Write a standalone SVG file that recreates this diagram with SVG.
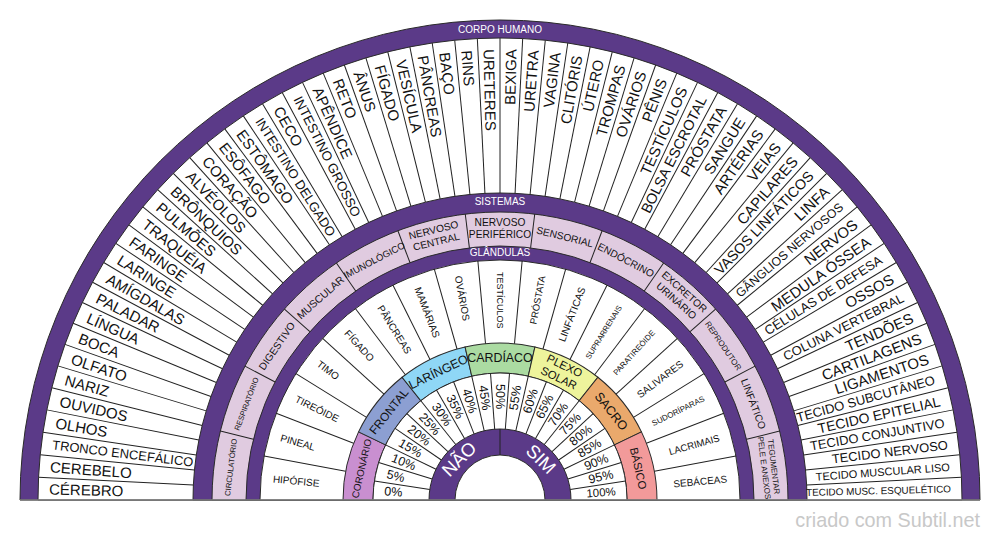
<svg xmlns="http://www.w3.org/2000/svg" xmlns:xlink="http://www.w3.org/1999/xlink" width="1000" height="540" viewBox="0 0 1000 540">
<style>
text{font-family:'Liberation Sans',Arial,Helvetica,sans-serif;fill:#111;dominant-baseline:central}
.cl{font-size:15px;text-anchor:start}
.cr{font-size:15px;text-anchor:end}
.gl{font-size:10px;text-anchor:start}
.gr{font-size:10px;text-anchor:end}
.pl{font-size:12.5px;text-anchor:start}
.pr{font-size:12.5px;text-anchor:end}
.s{font-size:10.2px;text-anchor:middle}
.k{font-size:12.4px;text-anchor:middle}
.band{font-size:10px;text-anchor:middle;fill:#fff}
.ns{font-size:18.5px;text-anchor:middle;fill:#fff}
.disc{stroke:#2a2a2a;stroke-width:1}
.lines{stroke:#222;stroke-width:1}
</style>
<defs>
<line id="lc" x1="38" y1="500" x2="193" y2="500"/>
<line id="ls" x1="212" y1="500" x2="246" y2="500"/>
<line id="lg" x1="260" y1="500" x2="343" y2="500"/>
<line id="lp" x1="373" y1="500" x2="429" y2="500"/>
<path id="wedge" d="M343,500 A157,157 0 0 1 358.55,431.88 L385.58,444.9 A127,127 0 0 0 373,500 Z"/>
</defs>
<rect width="1000" height="540" fill="#fff"/>
<g id="rings">
<path class="disc" fill="#5b3a88" d="M20,500 A480,480 0 0 1 980,500 Z"/>
<path class="disc" fill="#fff" d="M38,500 A462,462 0 0 1 962,500 Z"/>
<path class="disc" fill="#5b3a88" d="M193,500 A307,307 0 0 1 807,500 Z"/>
<path class="disc" fill="#e0cbe0" d="M212,500 A288,288 0 0 1 788,500 Z"/>
<path class="disc" fill="#5b3a88" d="M246,500 A254,254 0 0 1 754,500 Z"/>
<path class="disc" fill="#fff" d="M260,500 A240,240 0 0 1 740,500 Z"/>
</g>
<g id="chakras" stroke="#2a2a2a" stroke-width="1">
<use xlink:href="#wedge" fill="#c98fd0"/>
<use xlink:href="#wedge" fill="#8c9fd2" transform="rotate(25.714 500 500)"/>
<use xlink:href="#wedge" fill="#8fd7f6" transform="rotate(51.429 500 500)"/>
<use xlink:href="#wedge" fill="#abdba2" transform="rotate(77.143 500 500)"/>
<use xlink:href="#wedge" fill="#eef49c" transform="rotate(102.857 500 500)"/>
<use xlink:href="#wedge" fill="#eaa96c" transform="rotate(128.571 500 500)"/>
<use xlink:href="#wedge" fill="#f29a9a" transform="rotate(154.286 500 500)"/>
</g>
<g id="center-rings">
<path class="disc" fill="#fff" d="M373,500 A127,127 0 0 1 627,500 Z"/>
<path class="disc" fill="#5b3a88" d="M429,500 A71,71 0 0 1 571,500 Z"/>
<path class="disc" fill="#fff" d="M455,500 A45,45 0 0 1 545,500 Z"/>
</g>
<g id="connectors" class="lines">
<use xlink:href="#lc" transform="rotate(2.8125 500 500)"/>
<use xlink:href="#lc" transform="rotate(5.625 500 500)"/>
<use xlink:href="#lc" transform="rotate(8.4375 500 500)"/>
<use xlink:href="#lc" transform="rotate(11.25 500 500)"/>
<use xlink:href="#lc" transform="rotate(14.0625 500 500)"/>
<use xlink:href="#lc" transform="rotate(16.875 500 500)"/>
<use xlink:href="#lc" transform="rotate(19.6875 500 500)"/>
<use xlink:href="#lc" transform="rotate(22.5 500 500)"/>
<use xlink:href="#lc" transform="rotate(25.3125 500 500)"/>
<use xlink:href="#lc" transform="rotate(28.125 500 500)"/>
<use xlink:href="#lc" transform="rotate(30.9375 500 500)"/>
<use xlink:href="#lc" transform="rotate(33.75 500 500)"/>
<use xlink:href="#lc" transform="rotate(36.5625 500 500)"/>
<use xlink:href="#lc" transform="rotate(39.375 500 500)"/>
<use xlink:href="#lc" transform="rotate(42.1875 500 500)"/>
<use xlink:href="#lc" transform="rotate(45 500 500)"/>
<use xlink:href="#lc" transform="rotate(47.8125 500 500)"/>
<use xlink:href="#lc" transform="rotate(50.625 500 500)"/>
<use xlink:href="#lc" transform="rotate(53.4375 500 500)"/>
<use xlink:href="#lc" transform="rotate(56.25 500 500)"/>
<use xlink:href="#lc" transform="rotate(59.0625 500 500)"/>
<use xlink:href="#lc" transform="rotate(61.875 500 500)"/>
<use xlink:href="#lc" transform="rotate(64.6875 500 500)"/>
<use xlink:href="#lc" transform="rotate(67.5 500 500)"/>
<use xlink:href="#lc" transform="rotate(70.3125 500 500)"/>
<use xlink:href="#lc" transform="rotate(73.125 500 500)"/>
<use xlink:href="#lc" transform="rotate(75.9375 500 500)"/>
<use xlink:href="#lc" transform="rotate(78.75 500 500)"/>
<use xlink:href="#lc" transform="rotate(81.5625 500 500)"/>
<use xlink:href="#lc" transform="rotate(84.375 500 500)"/>
<use xlink:href="#lc" transform="rotate(87.1875 500 500)"/>
<use xlink:href="#lc" transform="rotate(90 500 500)"/>
<use xlink:href="#lc" transform="rotate(92.8125 500 500)"/>
<use xlink:href="#lc" transform="rotate(95.625 500 500)"/>
<use xlink:href="#lc" transform="rotate(98.4375 500 500)"/>
<use xlink:href="#lc" transform="rotate(101.25 500 500)"/>
<use xlink:href="#lc" transform="rotate(104.0625 500 500)"/>
<use xlink:href="#lc" transform="rotate(106.875 500 500)"/>
<use xlink:href="#lc" transform="rotate(109.6875 500 500)"/>
<use xlink:href="#lc" transform="rotate(112.5 500 500)"/>
<use xlink:href="#lc" transform="rotate(115.3125 500 500)"/>
<use xlink:href="#lc" transform="rotate(118.125 500 500)"/>
<use xlink:href="#lc" transform="rotate(120.9375 500 500)"/>
<use xlink:href="#lc" transform="rotate(123.75 500 500)"/>
<use xlink:href="#lc" transform="rotate(126.5625 500 500)"/>
<use xlink:href="#lc" transform="rotate(129.375 500 500)"/>
<use xlink:href="#lc" transform="rotate(132.1875 500 500)"/>
<use xlink:href="#lc" transform="rotate(135 500 500)"/>
<use xlink:href="#lc" transform="rotate(137.8125 500 500)"/>
<use xlink:href="#lc" transform="rotate(140.625 500 500)"/>
<use xlink:href="#lc" transform="rotate(143.4375 500 500)"/>
<use xlink:href="#lc" transform="rotate(146.25 500 500)"/>
<use xlink:href="#lc" transform="rotate(149.0625 500 500)"/>
<use xlink:href="#lc" transform="rotate(151.875 500 500)"/>
<use xlink:href="#lc" transform="rotate(154.6875 500 500)"/>
<use xlink:href="#lc" transform="rotate(157.5 500 500)"/>
<use xlink:href="#lc" transform="rotate(160.3125 500 500)"/>
<use xlink:href="#lc" transform="rotate(163.125 500 500)"/>
<use xlink:href="#lc" transform="rotate(165.9375 500 500)"/>
<use xlink:href="#lc" transform="rotate(168.75 500 500)"/>
<use xlink:href="#lc" transform="rotate(171.5625 500 500)"/>
<use xlink:href="#lc" transform="rotate(174.375 500 500)"/>
<use xlink:href="#lc" transform="rotate(177.1875 500 500)"/>
<use xlink:href="#ls" transform="rotate(13.846 500 500)"/>
<use xlink:href="#ls" transform="rotate(27.692 500 500)"/>
<use xlink:href="#ls" transform="rotate(41.538 500 500)"/>
<use xlink:href="#ls" transform="rotate(55.385 500 500)"/>
<use xlink:href="#ls" transform="rotate(69.231 500 500)"/>
<use xlink:href="#ls" transform="rotate(83.077 500 500)"/>
<use xlink:href="#ls" transform="rotate(96.923 500 500)"/>
<use xlink:href="#ls" transform="rotate(110.769 500 500)"/>
<use xlink:href="#ls" transform="rotate(124.615 500 500)"/>
<use xlink:href="#ls" transform="rotate(138.462 500 500)"/>
<use xlink:href="#ls" transform="rotate(152.308 500 500)"/>
<use xlink:href="#ls" transform="rotate(166.154 500 500)"/>
<use xlink:href="#lg" transform="rotate(10.588 500 500)"/>
<use xlink:href="#lg" transform="rotate(21.176 500 500)"/>
<use xlink:href="#lg" transform="rotate(31.765 500 500)"/>
<use xlink:href="#lg" transform="rotate(42.353 500 500)"/>
<use xlink:href="#lg" transform="rotate(52.941 500 500)"/>
<use xlink:href="#lg" transform="rotate(63.529 500 500)"/>
<use xlink:href="#lg" transform="rotate(74.118 500 500)"/>
<use xlink:href="#lg" transform="rotate(84.706 500 500)"/>
<use xlink:href="#lg" transform="rotate(95.294 500 500)"/>
<use xlink:href="#lg" transform="rotate(105.882 500 500)"/>
<use xlink:href="#lg" transform="rotate(116.471 500 500)"/>
<use xlink:href="#lg" transform="rotate(127.059 500 500)"/>
<use xlink:href="#lg" transform="rotate(137.647 500 500)"/>
<use xlink:href="#lg" transform="rotate(148.235 500 500)"/>
<use xlink:href="#lg" transform="rotate(158.824 500 500)"/>
<use xlink:href="#lg" transform="rotate(169.412 500 500)"/>
<use xlink:href="#lp" transform="rotate(8.571 500 500)"/>
<use xlink:href="#lp" transform="rotate(17.143 500 500)"/>
<use xlink:href="#lp" transform="rotate(25.714 500 500)"/>
<use xlink:href="#lp" transform="rotate(34.286 500 500)"/>
<use xlink:href="#lp" transform="rotate(42.857 500 500)"/>
<use xlink:href="#lp" transform="rotate(51.429 500 500)"/>
<use xlink:href="#lp" transform="rotate(60 500 500)"/>
<use xlink:href="#lp" transform="rotate(68.571 500 500)"/>
<use xlink:href="#lp" transform="rotate(77.143 500 500)"/>
<use xlink:href="#lp" transform="rotate(85.714 500 500)"/>
<use xlink:href="#lp" transform="rotate(94.286 500 500)"/>
<use xlink:href="#lp" transform="rotate(102.857 500 500)"/>
<use xlink:href="#lp" transform="rotate(111.429 500 500)"/>
<use xlink:href="#lp" transform="rotate(120 500 500)"/>
<use xlink:href="#lp" transform="rotate(128.571 500 500)"/>
<use xlink:href="#lp" transform="rotate(137.143 500 500)"/>
<use xlink:href="#lp" transform="rotate(145.714 500 500)"/>
<use xlink:href="#lp" transform="rotate(154.286 500 500)"/>
<use xlink:href="#lp" transform="rotate(162.857 500 500)"/>
<use xlink:href="#lp" transform="rotate(171.429 500 500)"/>
<line x1="500" y1="429" x2="500" y2="455"/>
<line x1="20" y1="500" x2="980" y2="500" stroke="#808080" stroke-width="1.6"/>
</g>
<g id="titles">
<text class="band" x="500" y="29.5">CORPO HUMANO</text>
<text class="band" x="500" y="201.5">SISTEMAS</text>
<text class="band" x="500" y="252.5">GLÂNDULAS</text>
</g>
<g id="corpo-humano">
<text class="cl" x="49" y="500" transform="rotate(1.40625 500 500)">CÉREBRO</text>
<text class="cl" x="49" y="500" transform="rotate(4.21875 500 500)">CEREBELO</text>
<text class="cl" x="49" y="500" transform="rotate(7.03125 500 500)" style="font-size:12.9px">TRONCO ENCEFÁLICO</text>
<text class="cl" x="49" y="500" transform="rotate(9.84375 500 500)">OLHOS</text>
<text class="cl" x="49" y="500" transform="rotate(12.65625 500 500)">OUVIDOS</text>
<text class="cl" x="49" y="500" transform="rotate(15.46875 500 500)">NARIZ</text>
<text class="cl" x="49" y="500" transform="rotate(18.28125 500 500)">OLFATO</text>
<text class="cl" x="49" y="500" transform="rotate(21.09375 500 500)">BOCA</text>
<text class="cl" x="49" y="500" transform="rotate(23.90625 500 500)">LÍNGUA</text>
<text class="cl" x="49" y="500" transform="rotate(26.71875 500 500)">PALADAR</text>
<text class="cl" x="49" y="500" transform="rotate(29.53125 500 500)">AMÍGDALAS</text>
<text class="cl" x="49" y="500" transform="rotate(32.34375 500 500)">LARINGE</text>
<text class="cl" x="49" y="500" transform="rotate(35.15625 500 500)">FARINGE</text>
<text class="cl" x="49" y="500" transform="rotate(37.96875 500 500)">TRAQUÉIA</text>
<text class="cl" x="49" y="500" transform="rotate(40.78125 500 500)">PULMÕES</text>
<text class="cl" x="49" y="500" transform="rotate(43.59375 500 500)">BRÔNQUIOS</text>
<text class="cl" x="49" y="500" transform="rotate(46.40625 500 500)">ALVÉOLOS</text>
<text class="cl" x="49" y="500" transform="rotate(49.21875 500 500)">CORAÇÃO</text>
<text class="cl" x="49" y="500" transform="rotate(52.03125 500 500)">ESÔFAGO</text>
<text class="cl" x="49" y="500" transform="rotate(54.84375 500 500)">ESTÔMAGO</text>
<text class="cl" x="49" y="500" transform="rotate(57.65625 500 500)" style="font-size:13.1px">INTESTINO DELGADO</text>
<text class="cl" x="49" y="500" transform="rotate(60.46875 500 500)">CECO</text>
<text class="cl" x="49" y="500" transform="rotate(63.28125 500 500)" style="font-size:13.3px">INTESTINO GROSSO</text>
<text class="cl" x="49" y="500" transform="rotate(66.09375 500 500)">APÊNDICE</text>
<text class="cl" x="49" y="500" transform="rotate(68.90625 500 500)">RETO</text>
<text class="cl" x="49" y="500" transform="rotate(71.71875 500 500)">ÂNUS</text>
<text class="cl" x="49" y="500" transform="rotate(74.53125 500 500)">FÍGADO</text>
<text class="cl" x="49" y="500" transform="rotate(77.34375 500 500)">VESÍCULA</text>
<text class="cl" x="49" y="500" transform="rotate(80.15625 500 500)">PÂNCREAS</text>
<text class="cl" x="49" y="500" transform="rotate(82.96875 500 500)">BAÇO</text>
<text class="cl" x="49" y="500" transform="rotate(85.78125 500 500)">RINS</text>
<text class="cl" x="49" y="500" transform="rotate(88.59375 500 500)">URETERES</text>
<text class="cr" x="951" y="500" transform="rotate(-88.59375 500 500)">BEXIGA</text>
<text class="cr" x="951" y="500" transform="rotate(-85.78125 500 500)">URETRA</text>
<text class="cr" x="951" y="500" transform="rotate(-82.96875 500 500)">VAGINA</text>
<text class="cr" x="951" y="500" transform="rotate(-80.15625 500 500)">CLITÓRIS</text>
<text class="cr" x="951" y="500" transform="rotate(-77.34375 500 500)">ÚTERO</text>
<text class="cr" x="951" y="500" transform="rotate(-74.53125 500 500)">TROMPAS</text>
<text class="cr" x="951" y="500" transform="rotate(-71.71875 500 500)">OVÁRIOS</text>
<text class="cr" x="951" y="500" transform="rotate(-68.90625 500 500)">PÊNIS</text>
<text class="cr" x="951" y="500" transform="rotate(-66.09375 500 500)">TESTÍCULOS</text>
<text class="cr" x="951" y="500" transform="rotate(-63.28125 500 500)" style="font-size:14.5px">BOLSA ESCROTAL</text>
<text class="cr" x="951" y="500" transform="rotate(-60.46875 500 500)">PRÓSTATA</text>
<text class="cr" x="951" y="500" transform="rotate(-57.65625 500 500)">SANGUE</text>
<text class="cr" x="951" y="500" transform="rotate(-54.84375 500 500)">ARTÉRIAS</text>
<text class="cr" x="951" y="500" transform="rotate(-52.03125 500 500)">VEIAS</text>
<text class="cr" x="951" y="500" transform="rotate(-49.21875 500 500)">CAPILARES</text>
<text class="cr" x="951" y="500" transform="rotate(-46.40625 500 500)" style="font-size:14.3px">VASOS LINFÁTICOS</text>
<text class="cr" x="951" y="500" transform="rotate(-43.59375 500 500)">LINFA</text>
<text class="cr" x="951" y="500" transform="rotate(-40.78125 500 500)" style="font-size:12.3px">GÂNGLIOS NERVOSOS</text>
<text class="cr" x="951" y="500" transform="rotate(-37.96875 500 500)">NERVOS</text>
<text class="cr" x="951" y="500" transform="rotate(-35.15625 500 500)">MEDULA ÓSSEA</text>
<text class="cr" x="951" y="500" transform="rotate(-32.34375 500 500)" style="font-size:13px">CÉLULAS DE DEFESA</text>
<text class="cr" x="951" y="500" transform="rotate(-29.53125 500 500)">OSSOS</text>
<text class="cr" x="951" y="500" transform="rotate(-26.71875 500 500)" style="font-size:12.9px">COLUNA VERTEBRAL</text>
<text class="cr" x="951" y="500" transform="rotate(-23.90625 500 500)">TENDÕES</text>
<text class="cr" x="951" y="500" transform="rotate(-21.09375 500 500)">CARTILAGENS</text>
<text class="cr" x="951" y="500" transform="rotate(-18.28125 500 500)">LIGAMENTOS</text>
<text class="cr" x="951" y="500" transform="rotate(-15.46875 500 500)" style="font-size:13px">TECIDO SUBCUTÂNEO</text>
<text class="cr" x="951" y="500" transform="rotate(-12.65625 500 500)" style="font-size:13.9px">TECIDO EPITELIAL</text>
<text class="cr" x="951" y="500" transform="rotate(-9.84375 500 500)" style="font-size:12.9px">TECIDO CONJUNTIVO</text>
<text class="cr" x="951" y="500" transform="rotate(-7.03125 500 500)" style="font-size:12.9px">TECIDO NERVOSO</text>
<text class="cr" x="951" y="500" transform="rotate(-4.21875 500 500)" style="font-size:11px">TECIDO MUSCULAR LISO</text>
<text class="cr" x="951" y="500" transform="rotate(-1.40625 500 500)" style="font-size:9.9px">TECIDO MUSC. ESQUELÉTICO</text>
</g>
<g id="sistemas">
<text class="s" x="500" y="229" transform="rotate(-83.077 500 500)" style="font-size:7.7px">CIRCULATÓRIO</text>
<text class="s" x="500" y="229" transform="rotate(-69.231 500 500)" style="font-size:7.5px">RESPIRATÓRIO</text>
<text class="s" x="500" y="229" transform="rotate(-55.385 500 500)">DIGESTIVO</text>
<text class="s" x="500" y="229" transform="rotate(-41.538 500 500)" style="font-size:10.5px">MUSCULAR</text>
<text class="s" x="500" y="229" transform="rotate(-27.692 500 500)" style="font-size:9.4px">IMUNOLÓGICO</text>
<g transform="rotate(-13.846 500 500)"><text class="s" x="500" y="222">NERVOSO</text><text class="s" x="500" y="234">CENTRAL</text></g>
<text class="s" x="500" y="222">NERVOSO</text><text class="s" x="500" y="234">PERIFÉRICO</text>
<text class="s" x="500" y="229" transform="rotate(13.846 500 500)">SENSORIAL</text>
<text class="s" x="500" y="229" transform="rotate(27.692 500 500)">ENDÓCRINO</text>
<g transform="rotate(41.538 500 500)"><text class="s" x="500" y="222">EXCRETOR</text><text class="s" x="500" y="234">URINÁRIO</text></g>
<text class="s" x="500" y="229" transform="rotate(55.385 500 500)" style="font-size:8.1px">REPRODUTOR</text>
<text class="s" x="500" y="229" transform="rotate(69.231 500 500)">LINFÁTICO</text>
<g transform="rotate(83.077 500 500)"><text class="s" x="500" y="224.5" style="font-size:8px">TEGUMENTAR</text><text class="s" x="500" y="234" style="font-size:8px">PELE E ANEXOS</text></g>
</g>
<g id="glandulas">
<text class="gl" x="272" y="500" transform="rotate(5.294 500 500)">HIPÓFISE</text>
<text class="gl" x="272" y="500" transform="rotate(15.882 500 500)">PINEAL</text>
<text class="gl" x="272" y="500" transform="rotate(26.471 500 500)">TIREÓIDE</text>
<text class="gl" x="272" y="500" transform="rotate(37.059 500 500)">TIMO</text>
<text class="gl" x="272" y="500" transform="rotate(47.647 500 500)">FÍGADO</text>
<text class="gl" x="272" y="500" transform="rotate(58.235 500 500)">PÂNCREAS</text>
<text class="gl" x="272" y="500" transform="rotate(68.824 500 500)">MAMÁRIAS</text>
<text class="gl" x="272" y="500" transform="rotate(79.412 500 500)">OVÁRIOS</text>
<text class="gl" x="272" y="500" transform="rotate(90 500 500)" style="font-size:9px">TESTÍCULOS</text>
<text class="gr" x="728" y="500" transform="rotate(-79.412 500 500)" style="font-size:9.5px">PRÓSTATA</text>
<text class="gr" x="728" y="500" transform="rotate(-68.824 500 500)">LINFÁTICAS</text>
<text class="gr" x="728" y="500" transform="rotate(-58.235 500 500)" style="font-size:7.8px">SUPRARRENAIS</text>
<text class="gr" x="728" y="500" transform="rotate(-47.647 500 500)" style="font-size:7.9px">PARATIREÓIDE</text>
<text class="gr" x="728" y="500" transform="rotate(-37.059 500 500)">SALIVARES</text>
<text class="gr" x="728" y="500" transform="rotate(-26.471 500 500)" style="font-size:8px">SUDORÍPARAS</text>
<text class="gr" x="728" y="500" transform="rotate(-15.882 500 500)" style="font-size:9.7px">LACRIMAIS</text>
<text class="gr" x="728" y="500" transform="rotate(-5.294 500 500)">SEBÁCEAS</text>
</g>
<g id="chakra-labels">
<text class="k" x="500" y="358" transform="rotate(-77.143 500 500)" style="font-size:9.8px">CORONÁRIO</text>
<text class="k" x="500" y="358" transform="rotate(-51.429 500 500)" style="font-size:11.9px">FRONTAL</text>
<text class="k" x="500" y="358" transform="rotate(-25.714 500 500)">LARÍNGEO</text>
<text class="k" x="500" y="358">CARDÍACO</text>
<g transform="rotate(25.714 500 500)"><text class="k" x="500" y="351" style="font-size:11.4px">PLEXO</text><text class="k" x="500" y="364.5" style="font-size:11.4px">SOLAR</text></g>
<text class="k" x="500" y="358" transform="rotate(51.429 500 500)" style="font-size:12.6px">SACRO</text>
<text class="k" x="500" y="358" transform="rotate(77.143 500 500)" style="font-size:11.3px">BÁSICO</text>
</g>
<g id="percentagens">
<text class="pl" x="384" y="500" transform="rotate(4.286 500 500)">0%</text>
<text class="pl" x="384" y="500" transform="rotate(12.857 500 500)">5%</text>
<text class="pl" x="384" y="500" transform="rotate(21.429 500 500)">10%</text>
<text class="pl" x="384" y="500" transform="rotate(30 500 500)">15%</text>
<text class="pl" x="384" y="500" transform="rotate(38.571 500 500)">20%</text>
<text class="pl" x="384" y="500" transform="rotate(47.143 500 500)">25%</text>
<text class="pl" x="384" y="500" transform="rotate(55.714 500 500)">30%</text>
<text class="pl" x="384" y="500" transform="rotate(64.286 500 500)">35%</text>
<text class="pl" x="384" y="500" transform="rotate(72.857 500 500)">40%</text>
<text class="pl" x="384" y="500" transform="rotate(81.429 500 500)">45%</text>
<text class="pl" x="384" y="500" transform="rotate(90 500 500)">50%</text>
<text class="pr" x="616" y="500" transform="rotate(-81.429 500 500)">55%</text>
<text class="pr" x="616" y="500" transform="rotate(-72.857 500 500)">60%</text>
<text class="pr" x="616" y="500" transform="rotate(-64.286 500 500)">65%</text>
<text class="pr" x="616" y="500" transform="rotate(-55.714 500 500)">70%</text>
<text class="pr" x="616" y="500" transform="rotate(-47.143 500 500)">75%</text>
<text class="pr" x="616" y="500" transform="rotate(-38.571 500 500)">80%</text>
<text class="pr" x="616" y="500" transform="rotate(-30 500 500)">85%</text>
<text class="pr" x="616" y="500" transform="rotate(-21.429 500 500)">90%</text>
<text class="pr" x="616" y="500" transform="rotate(-12.857 500 500)">95%</text>
<text class="pr" x="616" y="500" transform="rotate(-4.286 500 500)" style="font-size:11.5px">100%</text>
</g>
<g id="nao-sim">
<text class="ns" x="500" y="442" transform="rotate(-45 500 500)">NÃO</text>
<text class="ns" x="500" y="442" transform="rotate(45 500 500)">SIM</text>
</g>
<text x="980" y="520" style="font-size:19.8px;text-anchor:end;fill:#c8c8c8">criado com Subtil.net</text>
</svg>
